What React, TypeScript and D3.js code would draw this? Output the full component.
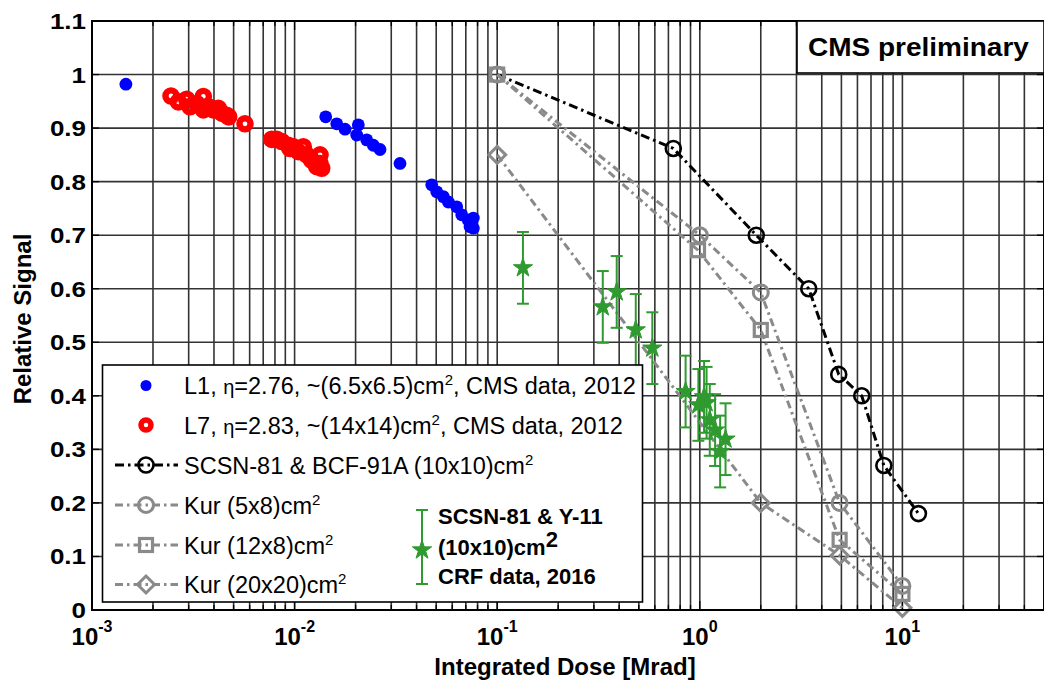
import React from 'react';
import * as d3 from 'd3';

// ---- data -------------------------------------------------------------
// L1 tower, eta = 2.76, CMS data 2012
const l1Dose = [0.00147, 0.01424, 0.01614, 0.01774, 0.02063, 0.02025, 0.02269, 0.02446, 0.0264, 0.03313,
  0.04751, 0.05029, 0.0542, 0.05738, 0.06312, 0.06682, 0.07203, 0.07624, 0.07624, 0.07343];
const l1Signal = [0.982, 0.921, 0.908, 0.898, 0.906, 0.887, 0.878, 0.868, 0.86, 0.834,
  0.794, 0.781, 0.772, 0.762, 0.753, 0.738, 0.728, 0.732, 0.713, 0.716];

// L7 tower, eta = 2.83, CMS data 2012
const l7Dose = [0.002455, 0.002667, 0.002934, 0.003046, 0.003288, 0.003544, 0.003544, 0.00375, 0.00397, 0.0042,
  0.00437, 0.00462, 0.00473, 0.00569, 0.00771, 0.00816, 0.00864, 0.00931, 0.00949, 0.00985, 0.01043, 0.01104,
  0.01147, 0.01215, 0.01286, 0.01335, 0.01335, 0.01361];
const l7Signal = [0.96, 0.949, 0.954, 0.94, 0.946, 0.959, 0.934, 0.94, 0.934, 0.937,
  0.928, 0.924, 0.921, 0.908, 0.879, 0.879, 0.875, 0.868, 0.862, 0.865, 0.856, 0.865,
  0.85, 0.84, 0.828, 0.85, 0.834, 0.825];

// SCSN-81 & BCF-91A (10x10)cm2
const bcfDose = [0.1, 0.74, 1.9, 3.45, 4.85, 6.3, 8.1, 12];
const bcfSignal = [1.0, 0.862, 0.70, 0.60, 0.44, 0.40, 0.27, 0.18];

// Kurchatov samples
const kur5x8Dose = [0.1, 1.0, 2.0, 4.9, 10];
const kur5x8Signal = [1.0, 0.70, 0.593, 0.20, 0.045];
const kur12x8Dose = [0.1, 0.98, 2.0, 4.9, 10];
const kur12x8Signal = [1.0, 0.672, 0.523, 0.131, 0.03];
const kur20x20Dose = [0.1, 2.0, 4.9, 10];
const kur20x20Signal = [0.85, 0.20, 0.102, 0.004];

// SCSN-81 & Y-11 (10x10)cm2, CRF data 2016
const crfDose = [0.134, 0.332, 0.389, 0.483, 0.583, 0.851, 0.984, 1.05, 1.08, 1.12, 1.19, 1.26, 1.34];
const crfSignal = [0.639, 0.566, 0.594, 0.523, 0.489, 0.408, 0.383, 0.398, 0.387, 0.355, 0.336, 0.296, 0.319];
const crfError = [0.067, 0.067, 0.067, 0.067, 0.067, 0.067, 0.067, 0.067, 0.067, 0.067, 0.067, 0.067, 0.067];

// axis ticks
const yTicks = [0, 0.1, 0.2, 0.3, 0.4, 0.5, 0.6, 0.7, 0.8, 0.9, 1, 1.1];
const yTickLabels = ['0', '0.1', '0.2', '0.3', '0.4', '0.5', '0.6', '0.7', '0.8', '0.9', '1', '1.1'];
const xDecades = [-3, -2, -1, 0, 1];
const xDecadeLabels = ['-3', '-2', '-1', '0', '1'];

// ---- layout -----------------------------------------------------------
const W = 1044;
const H = 684;
const L = 92;
const R = 1044;
const T = 21;
const B = 610;

const FONT = 'Liberation Sans, Arial, Helvetica, sans-serif';
const GRAY = '#8a8a8a';
const GREEN = '#2f9a2f';
const GRID = '#333333';
const DASH_BLACK = '9,4,2.5,4';
const DASH_GRAY = '8,4,2.5,4';

const x = d3.scaleLog().domain([1e-3, 50]).range([L, R]);
const y = d3.scaleLinear().domain([0, 1.1]).range([B, T]);

// minor + major positions of the log axis (1..9 x 10^k inside the domain)
const logGrid: number[] = [];
for (let k = -3; k <= 1; k++) {
  for (let m = 1; m <= 9; m++) {
    const v = m * Math.pow(10, k);
    if (v <= 50) logGrid.push(v);
  }
}

const line = d3
  .line<[number, number]>()
  .x((d) => x(d[0]))
  .y((d) => y(d[1]));

const zip = (a: number[], b: number[]) => a.map((v, i) => [v, b[i]] as [number, number]);

const starPath = d3.symbol().type(d3.symbolStar).size(115)() as string;

function Square({ cx, cy, s, color }: { cx: number; cy: number; s: number; color: string }) {
  return (
    <rect x={cx - s / 2} y={cy - s / 2} width={s} height={s} fill="none" stroke={color} strokeWidth={3.2} />
  );
}

function Diamond({ cx, cy, r, color }: { cx: number; cy: number; r: number; color: string }) {
  return (
    <path
      d={`M${cx},${cy - r}L${cx + r},${cy}L${cx},${cy + r}L${cx - r},${cy}Z`}
      fill="none"
      stroke={color}
      strokeWidth={3}
    />
  );
}

function Ring({ cx, cy, r, color, w }: { cx: number; cy: number; r: number; color: string; w: number }) {
  return <circle cx={cx} cy={cy} r={r} fill="none" stroke={color} strokeWidth={w} />;
}

type MarkerKind = 'circle' | 'square' | 'diamond';

function Marker({ kind, cx, cy, color }: { kind: MarkerKind; cx: number; cy: number; color: string }) {
  if (kind === 'square') return <Square cx={cx} cy={cy} s={13} color={color} />;
  if (kind === 'diamond') return <Diamond cx={cx} cy={cy} r={8.5} color={color} />;
  return <Ring cx={cx} cy={cy} r={7.5} color={color} w={color === 'black' ? 2.6 : 3} />;
}

function Series({
  dose,
  signal,
  color,
  dash,
  kind,
}: {
  dose: number[];
  signal: number[];
  color: string;
  dash: string;
  kind: MarkerKind;
}) {
  const pts = zip(dose, signal);
  return (
    <g>
      <path d={line(pts) as string} fill="none" stroke={color} strokeWidth={3} strokeDasharray={dash} />
      {pts.map((p, i) => (
        <Marker key={i} kind={kind} cx={x(p[0])} cy={y(p[1])} color={color} />
      ))}
    </g>
  );
}

function Star({ cx, cy }: { cx: number; cy: number }) {
  return <path d={starPath} transform={`translate(${cx},${cy})`} fill={GREEN} stroke={GREEN} strokeWidth={1} />;
}

function ErrorBar({ cx, lo, hi }: { cx: number; lo: number; hi: number }) {
  const c = 6;
  return (
    <g stroke={GREEN} strokeWidth={2} fill="none">
      <line x1={cx} x2={cx} y1={lo} y2={hi} />
      <line x1={cx - c} x2={cx + c} y1={lo} y2={lo} />
      <line x1={cx - c} x2={cx + c} y1={hi} y2={hi} />
    </g>
  );
}

function Sup({ children, size, dy }: { children: React.ReactNode; size: number; dy: number }) {
  return (
    <tspan fontSize={size} dy={-dy}>
      {children}
    </tspan>
  );
}

export default function App() {
  const legendRows = [385.5, 425, 465, 505, 545, 584.5];
  const legText = (i: number) => legendRows[i] + 8.5;
  const legX = 184;
  const legMarkX = 146;

  return (
    <svg
      width={W}
      height={H}
      viewBox={`0 0 ${W} ${H}`}
      style={{ position: 'absolute', left: 0, top: 0, background: '#fff' }}
      fontFamily={FONT}
    >
      <rect x={0} y={0} width={W} height={H} fill="#fff" />

      {/* grid */}
      <g stroke={GRID} strokeWidth={1.6}>
        {logGrid.map((v, i) => (
          <line key={`gx${i}`} x1={x(v)} x2={x(v)} y1={T} y2={B} />
        ))}
        {yTicks.slice(1, -1).map((v, i) => (
          <line key={`gy${i}`} x1={L} x2={R} y1={y(v)} y2={y(v)} />
        ))}
      </g>

      {/* axis ticks (inside) */}
      <g stroke="#000" strokeWidth={1.3}>
        {logGrid.map((v, i) => {
          const major = Math.abs(Math.log10(v) - Math.round(Math.log10(v))) < 1e-9;
          const len = major ? 9 : 5;
          return (
            <g key={`tx${i}`}>
              <line x1={x(v)} x2={x(v)} y1={B} y2={B - len} />
              <line x1={x(v)} x2={x(v)} y1={T} y2={T + len} />
            </g>
          );
        })}
        {yTicks.map((v, i) => (
          <g key={`ty${i}`}>
            <line x1={L} x2={L + 7} y1={y(v)} y2={y(v)} />
            <line x1={R} x2={R - 7} y1={y(v)} y2={y(v)} />
          </g>
        ))}
      </g>

      {/* BCF-91A and Kurchatov curves */}
      <Series dose={bcfDose} signal={bcfSignal} color="black" dash={DASH_BLACK} kind="circle" />
      <Series dose={kur20x20Dose} signal={kur20x20Signal} color={GRAY} dash={DASH_GRAY} kind="diamond" />
      <Series dose={kur12x8Dose} signal={kur12x8Signal} color={GRAY} dash={DASH_GRAY} kind="square" />
      <Series dose={kur5x8Dose} signal={kur5x8Signal} color={GRAY} dash={DASH_GRAY} kind="circle" />

      {/* CMS in-situ data */}
      {l7Dose.map((d, i) => (
        <Ring key={`l7${i}`} cx={x(d)} cy={y(l7Signal[i])} r={5.6} color="#ff0000" w={6.4} />
      ))}
      {l1Dose.map((d, i) => (
        <circle key={`l1${i}`} cx={x(d)} cy={y(l1Signal[i])} r={6.4} fill="#0000ff" />
      ))}

      {/* CRF 2016 with error bars */}
      {crfDose.map((d, i) => (
        <ErrorBar key={`eb${i}`} cx={x(d)} lo={y(crfSignal[i] - crfError[i])} hi={y(crfSignal[i] + crfError[i])} />
      ))}
      {crfDose.map((d, i) => (
        <Star key={`st${i}`} cx={x(d)} cy={y(crfSignal[i])} />
      ))}

      {/* frame */}
      <rect x={L} y={T} width={R - L} height={B - T} fill="none" stroke="#000" strokeWidth={2} />

      {/* legend */}
      <rect x={102.5} y={365} width={540} height={237} fill="#fff" stroke="#000" strokeWidth={1.6} />
      <g fontSize={23.5} fill="#000">
        <circle cx={legMarkX} cy={legendRows[0]} r={5.5} fill="#0000ff" />
        <text x={legX} y={legText(0)}>
          L1, <tspan fontSize={20}>η</tspan>=2.76, ~(6.5x6.5)cm<Sup size={15} dy={9}>2</Sup>
          <tspan dy={9}>, CMS data, 2012</tspan>
        </text>

        <Ring cx={legMarkX} cy={legendRows[1]} r={5} color="#ff0000" w={5.5} />
        <text x={legX} y={legText(1)}>
          L7, <tspan fontSize={20}>η</tspan>=2.83,  ~(14x14)cm<Sup size={15} dy={9}>2</Sup>
          <tspan dy={9}>, CMS data, 2012</tspan>
        </text>

        {[
          { color: 'black', dash: DASH_BLACK, kind: 'circle' as MarkerKind, label: 'SCSN-81 & BCF-91A (10x10)cm' },
          { color: GRAY, dash: DASH_GRAY, kind: 'circle' as MarkerKind, label: 'Kur (5x8)cm' },
          { color: GRAY, dash: DASH_GRAY, kind: 'square' as MarkerKind, label: 'Kur (12x8)cm' },
          { color: GRAY, dash: DASH_GRAY, kind: 'diamond' as MarkerKind, label: 'Kur (20x20)cm' },
        ].map((e, i) => (
          <g key={`lg${i}`}>
            <line
              x1={115}
              x2={178}
              y1={legendRows[i + 2]}
              y2={legendRows[i + 2]}
              stroke={e.color}
              strokeWidth={3}
              strokeDasharray={e.dash}
            />
            <Marker kind={e.kind} cx={legMarkX} cy={legendRows[i + 2]} color={e.color} />
            <text x={legX} y={legText(i + 2)}>
              {e.label}
              <Sup size={15} dy={9}>2</Sup>
            </text>
          </g>
        ))}

        {/* CRF entry */}
        <ErrorBar cx={422} lo={584} hi={510} />
        <Star cx={422} cy={550} />
        <g fontWeight="bold" fontSize={22} fill="#000">
          <text x={438} y={524}>SCSN-81 &amp; Y-11</text>
          <text x={438} y={555}>
            (10x10)cm<Sup size={22} dy={8}>2</Sup>
          </text>
          <text x={438} y={584}>CRF data, 2016</text>
        </g>
      </g>

      {/* CMS preliminary label */}
      <rect x={797} y={T} width={R - 797} height={52} fill="#fff" stroke="#000" strokeWidth={1.6} />
      <g transform="translate(808,56) scale(1.12,1)">
        <text fontSize={25} fontWeight="bold" fill="#000">
          CMS preliminary
        </text>
      </g>

      {/* y tick labels */}
      <g fontSize={22} fontWeight="bold" fill="#000">
        {yTicks.map((v, i) => (
          <g key={`yl${i}`} transform={`translate(86,${y(v) + 8}) scale(1.18,1)`}>
            <text textAnchor="end">{yTickLabels[i]}</text>
          </g>
        ))}
      </g>

      {/* x tick labels */}
      <g fontSize={24} fontWeight="bold" fill="#000">
        {xDecades.map((k, i) => (
          <text key={`xl${i}`} x={x(Math.pow(10, k))} y={645} textAnchor="middle">
            10<Sup size={16} dy={13}>{xDecadeLabels[i]}</Sup>
          </text>
        ))}
      </g>

      {/* axis titles */}
      <text x={565} y={675} textAnchor="middle" fontSize={24} fontWeight="bold" fill="#000">
        Integrated Dose [Mrad]
      </text>
      <text
        transform="translate(31,319) rotate(-90)"
        textAnchor="middle"
        fontSize={24}
        fontWeight="bold"
        fill="#000"
      >
        Relative Signal
      </text>
    </svg>
  );
}
